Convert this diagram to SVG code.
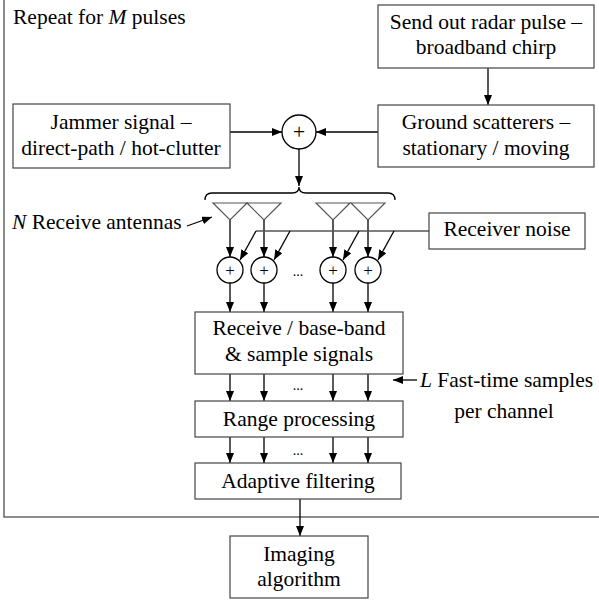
<svg xmlns="http://www.w3.org/2000/svg" width="599" height="601" viewBox="0 0 599 601">
<defs>
<marker id="ah" markerUnits="userSpaceOnUse" markerWidth="10" markerHeight="8" refX="10" refY="4" orient="auto">
<path d="M0,0 L10,4 L0,8 z" fill="#000"/>
</marker>
<style>
.box{fill:#fff;stroke:#444;stroke-width:1.2}
.t{font-family:'Liberation Serif','Times New Roman',serif;font-size:21.5px;fill:#000}
.m{text-anchor:middle}
.s16{font-size:17px}
.s14{font-size:14px}
.c{fill:#fff;stroke:#000;stroke-width:1.3}
.w{stroke:#000;stroke-width:1.3;fill:none}
.a{stroke:#000;stroke-width:1.3;fill:none;marker-end:url(#ah)}
.g{stroke:#555;stroke-width:1.3;fill:none}
.ant{fill:#fff;stroke:#555;stroke-width:1.2}
</style>
</defs>
<rect x="4" y="-2" width="600" height="519" fill="none" stroke="#666" stroke-width="1.5"/>
<text class="t" x="13" y="24">Repeat for <tspan font-style="italic">M</tspan> pulses</text>

<g id="connectors">
<line class="a" x1="488" y1="68" x2="488" y2="105"/>
<line class="a" x1="230" y1="132" x2="282" y2="132"/>
<line class="a" x1="378" y1="132" x2="316" y2="132"/>
<line class="a" x1="299" y1="149" x2="299" y2="186"/>
<path class="w" d="M205,200 Q205,193 212,193 L292,193 Q299,193 299,187 Q299,193 306,193 L388,193 Q395,193 395,200"/>
<line class="a" x1="187" y1="226" x2="212" y2="217"/>
<line class="a" x1="230" y1="220" x2="230" y2="257"/>
<line class="a" x1="264" y1="220" x2="264" y2="257"/>
<line class="a" x1="333" y1="220" x2="333" y2="257"/>
<line class="a" x1="368" y1="220" x2="368" y2="257"/>
<line class="g" x1="256" y1="231" x2="429" y2="231"/>
<line class="a" x1="256" y1="231" x2="240" y2="260"/>
<line class="a" x1="290" y1="231" x2="274" y2="260"/>
<line class="a" x1="359" y1="231" x2="343" y2="260"/>
<line class="a" x1="394" y1="231" x2="378" y2="260"/>
<line class="a" x1="230" y1="283" x2="230" y2="312"/>
<line class="a" x1="264" y1="283" x2="264" y2="312"/>
<line class="a" x1="333" y1="283" x2="333" y2="312"/>
<line class="a" x1="368" y1="283" x2="368" y2="312"/>
<line class="a" x1="230" y1="374" x2="230" y2="401"/>
<line class="a" x1="264" y1="374" x2="264" y2="401"/>
<line class="a" x1="333" y1="374" x2="333" y2="401"/>
<line class="a" x1="368" y1="374" x2="368" y2="401"/>
<line class="a" x1="230" y1="437" x2="230" y2="463"/>
<line class="a" x1="264" y1="437" x2="264" y2="463"/>
<line class="a" x1="333" y1="437" x2="333" y2="463"/>
<line class="a" x1="368" y1="437" x2="368" y2="463"/>
<line class="a" x1="300" y1="499" x2="300" y2="536"/>
<line class="a" x1="417" y1="380" x2="393" y2="380"/>
</g>

<g id="send">
<rect class="box" x="378" y="5" width="216" height="63"/>
<text class="t m" x="486" y="29">Send out radar pulse –</text>
<text class="t m" x="486" y="54">broadband chirp</text>
</g>
<g id="ground">
<rect class="box" x="378" y="105" width="216" height="62"/>
<text class="t m" x="486" y="129">Ground scatterers –</text>
<text class="t m" x="486" y="155">stationary / moving</text>
</g>
<g id="jammer">
<rect class="box" x="13" y="104" width="217" height="64"/>
<text class="t m" x="121" y="129">Jammer signal –</text>
<text class="t m" x="121" y="155">direct-path / hot-clutter</text>
</g>
<g id="sum0">
<circle class="c" cx="299" cy="132" r="17"/>
<text class="t m" x="299" y="139">+</text>
</g>
<g id="antennas">
<polygon class="ant" points="213,203 247,203 230,220"/>
<polygon class="ant" points="247,203 281,203 264,220"/>
<polygon class="ant" points="316,203 350,203 333,220"/>
<polygon class="ant" points="351,203 385,203 368,220"/>
<text class="t" x="12" y="229"><tspan font-style="italic">N</tspan> Receive antennas</text>
</g>
<g id="noise">
<rect class="box" x="429" y="213" width="156" height="36"/>
<text class="t m" x="507" y="236">Receiver noise</text>
</g>
<g id="sums">
<circle class="c" cx="230" cy="270" r="13"/>
<circle class="c" cx="264" cy="270" r="13"/>
<circle class="c" cx="333" cy="270" r="13"/>
<circle class="c" cx="368" cy="270" r="13"/>
<text class="t m s16" x="230" y="276">+</text>
<text class="t m s16" x="264" y="276">+</text>
<text class="t m s16" x="333" y="276">+</text>
<text class="t m s16" x="368" y="276">+</text>
<text class="t m s14" x="298" y="276">...</text>
</g>
<g id="receive">
<rect class="box" x="195" y="312" width="208" height="62"/>
<text class="t m" x="299" y="335">Receive / base-band</text>
<text class="t m" x="299" y="361">&amp; sample signals</text>
</g>
<text class="t m s14" x="298" y="390">...</text>
<g id="fasttime">
<text class="t" x="420" y="387"><tspan font-style="italic">L</tspan> Fast-time samples</text>
<text class="t m" x="504" y="418">per channel</text>
</g>
<g id="range">
<rect class="box" x="195" y="401" width="208" height="36"/>
<text class="t m" x="299" y="426">Range processing</text>
</g>
<text class="t m s14" x="298" y="455">...</text>
<g id="adaptive">
<rect class="box" x="195" y="463" width="206" height="36"/>
<text class="t m" x="298" y="488">Adaptive filtering</text>
</g>
<g id="imaging">
<rect class="box" x="230" y="536" width="138" height="62"/>
<text class="t m" x="299" y="561">Imaging</text>
<text class="t m" x="299" y="586">algorithm</text>
</g>
</svg>
